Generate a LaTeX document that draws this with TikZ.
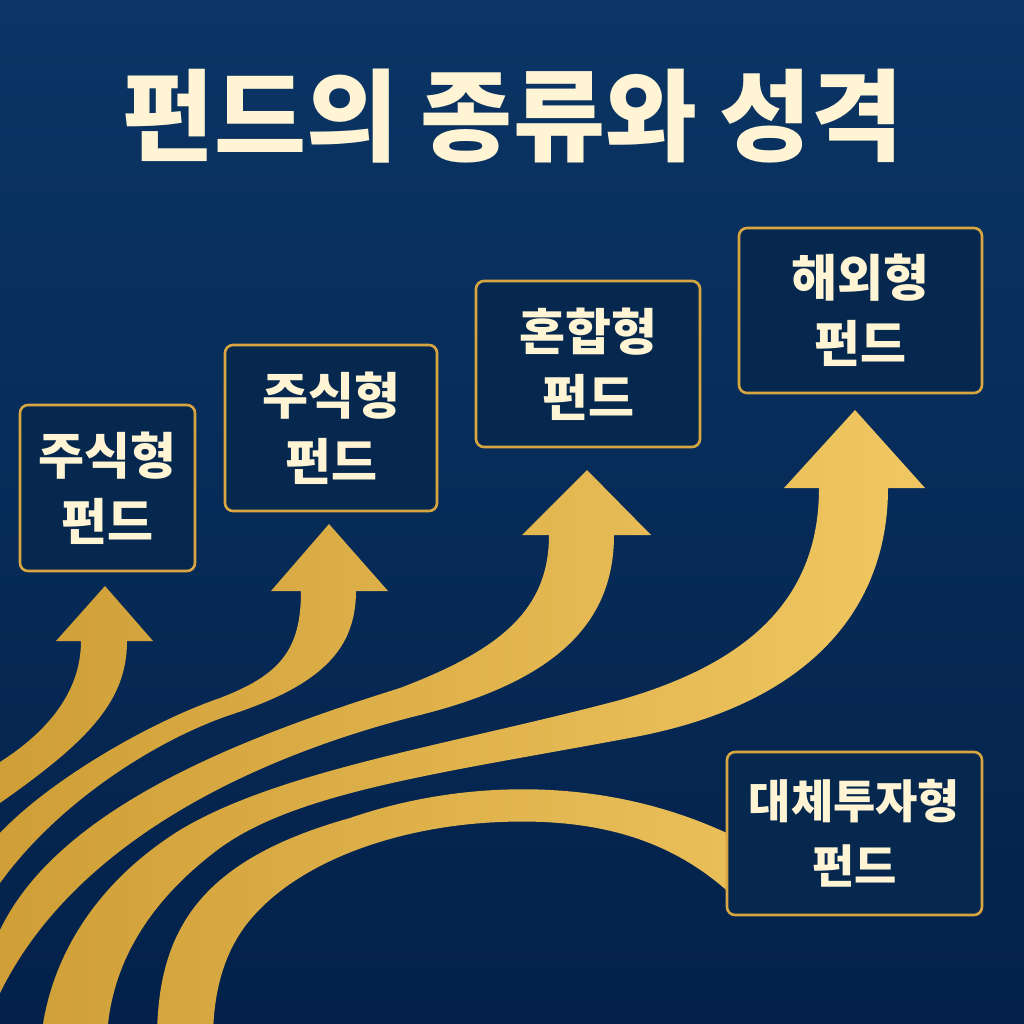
\documentclass[tikz,border=0pt]{standalone}
\usepackage{fontspec}
\newfontfamily\kr{Noto Sans CJK KR}
\definecolor{bgtop}{HTML}{0B3565}
\definecolor{bgmid}{HTML}{062A58}
\definecolor{bgbot}{HTML}{03214A}
\definecolor{goldD}{HTML}{CF9E36}
\definecolor{goldL}{HTML}{F0C762}
\definecolor{boxfill}{HTML}{06284F}
\definecolor{boxline}{HTML}{D8A640}
\definecolor{cream}{HTML}{FFF5D4}
\begin{document}
\begin{tikzpicture}[x=1pt,y=-1pt,
  fundbox/.style={draw=boxline, line width=2.6pt, fill=boxfill, rounded corners=8pt,
    inner sep=0pt, align=center, text=cream,
    font=\kr\bfseries\fontsize{50}{66}\selectfont},
  ribbon/.style={left color=goldD, right color=goldL}]
\useasboundingbox (0,0) rectangle (1024,1024);
\shade[top color=bgtop, middle color=bgmid, bottom color=bgbot] (0,0) rectangle (1024,1024);

\begin{scope}
\clip (0,0) rectangle (1024,1024);
\shade[ribbon]
  % ribbon 1
  (56,641) -- (105,586) -- (153,641) -- (127,641)
  .. controls (127,700) and (90,740) .. (0,803) -- (-12,811) -- (-12,770) -- (0,762)
  .. controls (50,730) and (81,690) .. (81,641) -- cycle
  % ribbon 2
  (271,591) -- (329,524) -- (388,591) -- (356,591)
  .. controls (356,650) and (320,685) .. (233,714)
  .. controls (160,738) and (60,800) .. (0,883) -- (-12,900) -- (-12,845) -- (0,833)
  .. controls (50,780) and (150,722) .. (220,698)
  .. controls (280,675) and (301,650) .. (301,591) -- cycle
  % ribbon 3
  (522,535) -- (587,470) -- (651,535) -- (614,535)
  .. controls (614,620) and (560,680) .. (420,715)
  .. controls (280,750) and (80,830) .. (0,993) -- (-12,1018) -- (-12,950) -- (0,930)
  .. controls (60,805) and (250,735) .. (400,688)
  .. controls (500,650) and (549,610) .. (549,535) -- cycle
  % ribbon 4
  (784,488) -- (855,410) -- (925,488) -- (888,488)
  .. controls (888,600) and (820,700) .. (640,736)
  .. controls (450,772) and (300,790) .. (220,848)
  .. controls (150,900) and (115,960) .. (108,1024) -- (107,1040) -- (41,1040) -- (43,1024)
  .. controls (55,950) and (100,880) .. (180,830)
  .. controls (280,770) and (450,745) .. (620,700)
  .. controls (760,660) and (819,590) .. (819,488) -- cycle
  % ribbon 5
  (157,1040) .. controls (157,930) and (200,860) .. (350,818)
  .. controls (460,780) and (610,772) .. (745,842) -- (745,908)
  .. controls (680,840) and (600,818) .. (500,822)
  .. controls (400,826) and (300,860) .. (250,920)
  .. controls (225,950) and (213,990) .. (213,1040) -- cycle;
\end{scope}

\node[text=cream, font=\kr\bfseries\fontsize{100}{110}\selectfont] (title) at (513,116) {펀드의 종류와 성격};

\node[fundbox, minimum width=175pt, minimum height=166pt] (b1) at (107.5,488) {주식형\\펀드};
\node[fundbox, minimum width=212pt, minimum height=166pt] (b2) at (331,428) {주식형\\펀드};
\node[fundbox, minimum width=224pt, minimum height=166pt] (b3) at (588,364) {혼합형\\펀드};
\node[fundbox, minimum width=243pt, minimum height=165pt] (b4) at (860.5,310.5) {해외형\\펀드};
\node[fundbox, minimum width=255pt, minimum height=163pt, font=\kr\bfseries\fontsize{46}{65}\selectfont] (b5) at (854.5,833.5) {대체투자형\\펀드};
\end{tikzpicture}
\end{document}
